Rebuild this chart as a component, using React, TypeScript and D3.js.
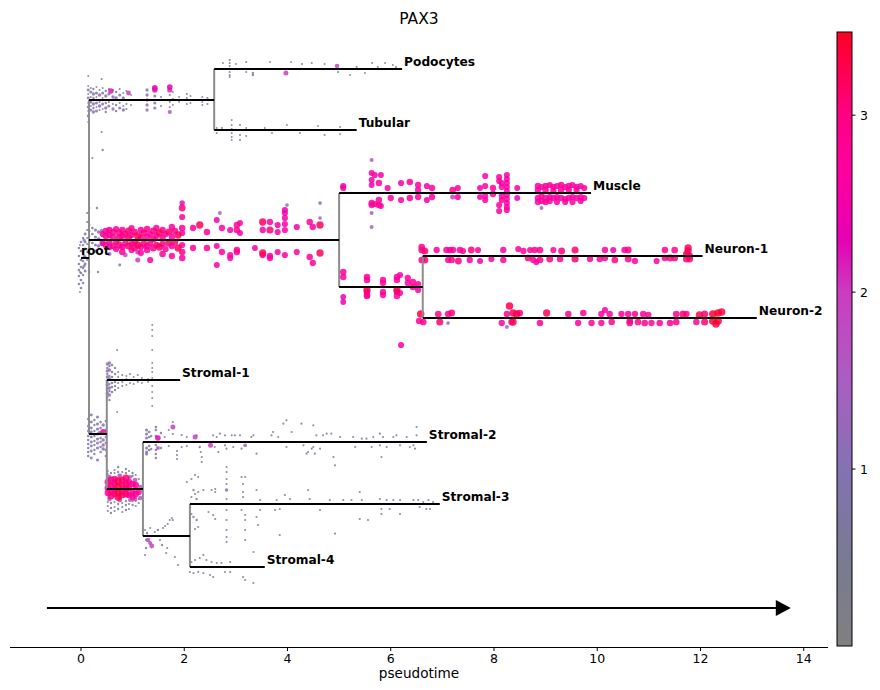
import * as d3 from 'd3';

// dendrogram layout: pseudotime span and vertical slot of each branch
const branchNames = ['root', 'stemTop', 'Podocytes', 'Tubular', 'stemMid', 'Muscle', 'stemNeuron', 'Neuron-1', 'Neuron-2', 'stemStromal', 'Stromal-1', 'stemStromalB', 'Stromal-2', 'stemStromalC', 'Stromal-3', 'Stromal-4'];
const branchT0 = [0, 0.155, 2.58, 2.58, 0.155, 5.0, 5.0, 6.62, 6.62, 0.155, 0.5, 0.5, 1.2, 1.2, 2.11, 2.11];
const branchT1 = [0.155, 2.58, 6.22, 5.34, 5.0, 9.88, 6.62, 12.04, 13.09, 0.5, 1.92, 1.2, 6.7, 2.11, 6.95, 3.56];
const branchY = [38.9, 54.7, 57.8, 51.7, 40.7, 45.4, 36.0, 39.1, 32.9, 21.3, 26.7, 15.8, 20.5, 11.1, 14.3, 8.0];
const branchParent = [-1, 0, 1, 1, 0, 4, 4, 6, 6, 0, 9, 9, 11, 11, 13, 13];
const labelled = ['root', 'Podocytes', 'Tubular', 'Muscle', 'Neuron-1', 'Neuron-2', 'Stromal-1', 'Stromal-2', 'Stromal-3', 'Stromal-4'];

const xTicks = [0, 2, 4, 6, 8, 10, 12, 14];
const cbarTicks = [1, 2, 3];
const cmapValues = [0, 0.5, 1.0, 1.5, 2.0, 2.3, 2.7, 3.0, 3.47];
const cmapColors = ['#808080', '#787b92', '#8472b2', '#aa5ec2', '#cc3cc0', '#e600b4', '#ff00a0', '#ff0084', '#ff0025'];

// cells: [pseudotime, PAX3 expression, offsets from branch line]
type Col = [number, number, number[]];

const rootCells: Col[] = [
  [-0.04, 0.7, [1.0, 0.2, -0.6, -1.2, -1.8, -2.6]],
  [0.0, 0.8, [1.6, 0.7, -0.2, -0.9, -1.5, -2.2, -3.0]],
  [0.04, 0.6, [2.0, 1.3, 0.5, -0.3, -1.0, -1.7, -2.5]],
  [0.08, 0.9, [2.4, 1.6, 0.9, 0.1, -0.6, -1.3]],
  [0.12, 0.5, [2.8, 2.0, 1.4, 0.6, -0.2, 3.6, 4.5]],
  [-0.02, 0.4, [-3.4, 1.3, -1.4]],
  [0.06, 1.0, [0.2, -0.8, 1.8]],
];
const stemTopCells: Col[] = [
  [0.14, 0.4, [2.4, 1.4, 0.6, -0.3, -1.1, -2.2]], [0.14, 0.9, [1.0, 0.2, -0.7, -1.6]],
  [0.19, 0.5, [1.2, 0.3, -0.6]], [0.19, 1.0, [0.8, -0.2, -1.0]],
  [0.24, 0.6, [1.1, 0.2, -0.8]], [0.24, 1.1, [0.6, -0.4, -1.2]],
  [0.30, 0.4, [1.3, 0.3, -0.7]], [0.30, 1.0, [0.7, -0.3, -1.1]],
  [0.36, 0.5, [1.0, -0.2, -1.0]], [0.36, 1.2, [0.5, -0.6]],
  [0.42, 0.4, [1.2, 0.2, -0.9]], [0.42, 1.0, [0.7, -0.4]],
  [0.48, 0.6, [0.9, -0.3, -1.2]], [0.48, 1.1, [0.4, -0.8]],
  [0.54, 0.5, [1.1, -0.2]], [0.54, 1.0, [0.6, -0.6]],
  [0.58, 2.2, [0.9]],
  [0.62, 0.4, [1.0, -0.4]], [0.62, 1.1, [0.3, -0.9]],
  [0.68, 0.6, [0.8, -0.5, -1.1]], [0.68, 1.2, [0.2]],
  [0.75, 0.5, [1.1, -0.3]], [0.75, 1.0, [0.5, -0.8]],
  [0.82, 0.4, [0.7, -0.6]], [0.82, 1.1, [0.2, -1.0]],
  [0.88, 0.5, [0.9, -0.4, -0.9]], [0.92, 1.9, [0.7]], [0.97, 0.4, [0.5, -0.5]],
  [1.28, 1.1, [1.0, 0.5, 0.0, -0.5, -1.0]],
  [1.43, 2.4, [1.2]], [1.43, 2.2, [1.0]], [1.43, 1.0, [0.4, -0.3, -0.8]],
  [1.55, 0.5, [0.3, -0.6]],
  [1.72, 2.3, [1.3]], [1.72, 2.1, [1.0]], [1.72, 0.5, [0.5, -0.2, -0.7]], [1.72, 1.6, [-1.2]],
  [1.78, 0.4, [0.8, 0.1, -0.5]], [1.90, 0.4, [0.3, -0.2]],
  [2.05, 0.5, [0.6, 0.2, -0.4]], [2.12, 0.4, [0.4, -0.3]],
  [2.35, 0.4, [0.3, -0.2, -0.5]], [2.45, 0.5, [0.2, -0.4]],
  [0.40, 0.5, [-3.2, 2.1]], [0.42, 0.6, [-5.0]], [0.22, 0.5, [-5.8]],
];
const podocyteCells: Col[] = [
  [2.75, 0.4, [0.6]], [2.88, 0.5, [0.9, 0.6, 0.3, 0.0, -0.3, -0.6, -0.8]], [3.0, 0.4, [0.5]],
  [3.2, 0.5, [0.7, -0.3]], [3.33, 0.6, [-0.6, -0.4]], [3.66, 0.4, [0.7]], [3.97, 2.0, [-0.4]],
  [4.07, 0.4, [0.7]], [4.28, 0.5, [0.5]], [4.47, 0.4, [0.6]], [4.72, 0.4, [0.5]],
  [4.96, 1.8, [0.3]], [4.98, 0.5, [-0.3]], [5.21, 0.4, [-0.6]], [5.34, 0.5, [0.2]],
  [5.5, 0.4, [-0.4]], [5.64, 0.4, [0.6]], [5.75, 0.5, [0.2]], [5.89, 0.4, [0.6]],
  [6.04, 0.4, [0.4]], [6.1, 0.5, [0.2]],
];
const tubularCells: Col[] = [
  [2.63, 0.4, [0.2, -0.3]], [2.73, 0.5, [0.2]], [2.92, 0.4, [1.0, 0.5, 0.1, -0.3, -0.7, -1.0]],
  [3.08, 0.5, [0.5, -0.5, -1.0]], [3.2, 0.4, [0.2, -0.6]], [3.37, 0.5, [0.0]], [3.56, 0.4, [0.2]],
  [3.7, 0.4, [-0.3]], [3.85, 0.5, [0.0]], [3.99, 0.4, [0.5]], [4.24, 0.4, [-0.3]],
  [4.59, 0.4, [0.4]], [4.72, 0.5, [-0.5]], [4.92, 0.4, [0.0]], [5.02, 0.4, [0.3, -0.4]],
];
const stemMidCells: Col[] = [
  [0.16, 0.6, [1.5, 0.9, 0.4, -0.2, -0.7, -1.3, 3.2, -3.2]],
  [0.22, 0.8, [1.2, 0.6, -0.3, -0.9]], [0.28, 1.0, [1.0, 0.3, -0.5, -1.1]],
  [0.34, 1.2, [0.8, 0.1, -0.6]], [0.40, 1.4, [0.9, -0.4]],
  [0.42, 2.6, [0.6, -0.3]], [0.48, 2.8, [0.9, 0.4, -0.5]], [0.55, 2.7, [1.0, 0.5, -0.2, -0.7]],
  [0.62, 2.9, [0.8, 0.3, -0.6]], [0.68, 2.6, [1.1, -0.2, -0.9]], [0.74, 3.0, [0.7, 0.2, -0.5]],
  [0.80, 2.8, [1.0, 0.4, -0.7, -1.2]], [0.86, 2.7, [0.6, -0.3]], [0.92, 3.1, [0.9, 0.2, -0.6]],
  [0.98, 2.6, [1.2, 0.5, -0.4, -1.0]], [1.04, 2.9, [0.8, -0.2, -0.8]], [1.10, 3.2, [0.4, -0.5]],
  [1.16, 2.7, [1.0, 0.2, -0.7, -1.3]], [1.22, 3.0, [0.7, -0.4]], [1.28, 2.8, [1.1, 0.3, -0.6, -1.0]],
  [1.34, 2.6, [0.6, -0.3, -2.0]], [1.40, 3.0, [0.9, 0.1, -0.8]], [1.46, 2.7, [1.2, 0.4, -0.5]],
  [1.52, 3.2, [0.7, -0.7]], [1.58, 2.8, [1.0, 0.2, -0.4, -1.4]], [1.64, 2.6, [0.6, -0.9]],
  [1.70, 3.1, [0.8, -0.3]], [1.76, 2.7, [1.3, 0.3, -0.6, -1.6]], [1.82, 2.9, [0.9, -0.2]],
  [1.88, 3.2, [0.5, -0.8]],
  [0.55, 1.6, [-1.4]], [0.86, 1.8, [-1.5]], [1.1, 2.0, [-2.0, -1.2]], [0.75, 0.9, [-2.5]],
  [0.31, 0.6, [3.2]], [0.33, 0.6, [-3.2]],
  [1.96, 2.2, [3.7]], [1.96, 3.0, [3.2]], [1.96, 2.8, [1.2, -1.2, -1.8]], [1.96, 2.6, [2.3, 0.7, -0.5]],
  [2.17, 2.7, [1.2, -0.8]], [2.30, 3.2, [1.5]], [2.44, 2.8, [0.8, -0.8]],
  [2.63, 2.5, [2.0, -0.6, -2.5]], [2.69, 1.4, [2.7]], [2.73, 2.7, [1.2, -1.2]],
  [2.89, 2.6, [1.0, -1.5, -1.8]], [3.02, 2.8, [1.5, 1.0, -1.0, -1.2]], [3.08, 2.5, [1.7, 0.7]],
  [3.37, 2.4, [-0.8]], [3.52, 3.2, [1.8, -1.3]], [3.52, 2.7, [1.0, -1.5]],
  [3.66, 3.1, [1.0]], [3.66, 2.7, [1.8, -1.6, -1.8]], [3.81, 2.6, [1.5, 0.8, -1.2]],
  [3.95, 2.6, [3.0, 2.7, 2.2, 1.6, 1.0, -1.5]], [3.99, 1.3, [3.5]],
  [4.18, 2.6, [1.3, -1.2]], [4.43, 2.8, [1.8, -1.7]], [4.49, 2.7, [1.3, -2.3]],
  [4.63, 1.3, [3.7, 2.2]], [4.63, 3.2, [1.5, -1.3]],
];
const muscleCells: Col[] = [
  [5.08, 2.6, [0.7, 0.5]], [5.63, 2.5, [2.0, 1.3, 0.8]], [5.63, 2.7, [-1.0, -1.2]],
  [5.63, 1.5, [-2.0, -3.4, 3.3]], [5.69, 2.6, [1.8, -1.1]], [5.77, 2.8, [1.0, -0.7, -1.2]],
  [5.81, 2.5, [1.8, -1.3]], [5.94, 2.6, [0.5]], [6.0, 2.7, [-0.5]], [6.2, 2.6, [1.0, -0.7]],
  [6.37, 2.8, [1.1, -0.5]], [6.53, 2.7, [0.8, 0.3, -0.4]], [6.70, 2.6, [0.7, -0.7]],
  [6.80, 2.7, [0.5, -0.4]], [7.20, 2.0, [-0.4]], [7.20, 2.9, [0.3]], [7.30, 2.6, [0.5, -0.4]],
  [7.73, 2.5, [0.5, -0.4]], [7.83, 2.6, [1.7, 0.7, -0.3, -0.7]], [7.98, 2.7, [0.5, -0.1]],
  [8.1, 2.6, [1.6, 1.2, -1.2, -1.8]], [8.15, 2.6, [1.0, 0.6, -0.3, -0.7]],
  [8.25, 2.6, [1.8, 1.4, 1.0, 0.6, 0.2, -0.2, -0.6, -1.0, -1.4, -1.7]],
  [8.45, 2.5, [0.5, -0.5]], [8.85, 2.7, [0.7, 0.3, -0.5, -0.9]], [8.92, 2.6, [0.6, -0.3, -0.8]],
  [8.92, 1.4, [-1.5]], [9.0, 2.8, [0.7, 0.3, -0.5, -0.9]], [9.08, 2.6, [0.8, -0.4, -0.8]],
  [9.15, 2.7, [0.6, 0.2, -0.5]], [9.22, 2.6, [0.7, -0.4, -0.9]], [9.3, 2.8, [0.8, 0.3, -0.5]],
  [9.38, 2.6, [0.6, -0.6, -0.9]], [9.45, 2.7, [0.7, 0.3, -0.5]], [9.52, 2.6, [0.8, -0.4, -0.9]],
  [9.6, 2.7, [0.6, 0.3, -0.5]], [9.68, 2.6, [0.7, -0.4, -0.8]], [9.75, 2.6, [0.5, -0.5]],
];
const stemNeuronCells: Col[] = [
  [5.08, 2.8, [1.5, 1.0]], [5.08, 2.4, [-1.0, -1.5]], [5.54, 2.8, [1.0, 0.7, -0.5, -0.8, -0.9]],
  [5.54, 3.2, [-0.3]], [5.85, 2.7, [0.7, 0.4, -0.5, -0.8]], [6.12, 2.8, [1.0, 0.7, -0.5, -0.9]],
  [6.12, 3.2, [-0.3]], [6.18, 2.6, [1.2, -0.6]], [6.20, 2.6, [-5.8]], [6.33, 2.7, [0.9, 0.4]],
  [6.43, 2.8, [0.5, 0.0]], [6.53, 2.6, [0.3, -0.3]],
];
const neuron1Cells: Col[] = [
  [6.60, 2.9, [0.9, 0.6, -0.4]], [6.66, 3.1, [0.5, -0.4]], [6.89, 2.7, [0.6]], [7.08, 2.8, [0.6]],
  [7.11, 2.6, [-0.4]], [7.15, 2.9, [0.6]], [7.18, 2.8, [-0.4]], [7.21, 2.7, [0.6]],
  [7.31, 3.0, [-0.5]], [7.34, 2.8, [0.6]], [7.40, 2.6, [0.5]], [7.53, 2.7, [-0.4]],
  [7.56, 3.0, [0.6]], [7.69, 2.6, [0.6]], [7.73, 2.5, [-0.5]], [7.95, 2.6, [-0.3]],
  [8.18, 2.7, [0.6, -0.4]], [8.47, 2.6, [0.7]], [8.57, 2.7, [0.5]], [8.66, 2.9, [-0.2]],
  [8.70, 2.6, [0.6]], [8.76, 2.7, [-0.4]], [8.79, 2.8, [0.6]], [8.82, 2.6, [-0.6]],
  [8.89, 2.9, [0.6, -0.4]], [9.08, 3.0, [-0.3]], [9.15, 2.6, [0.6]], [9.28, 2.8, [-0.3]],
  [9.31, 3.0, [0.5]], [9.57, 3.1, [0.6, -0.3]], [9.86, 2.7, [-0.3]], [10.05, 2.8, [-0.3]],
  [10.15, 2.7, [0.6, -0.2]], [10.31, 2.6, [0.6]], [10.34, 2.9, [-0.4]], [10.53, 2.8, [0.6]],
  [10.60, 3.0, [0.6, -0.3]], [10.73, 2.7, [-0.5]], [11.15, 2.6, [-0.5]], [11.31, 2.8, [0.6, -0.2]],
  [11.41, 3.0, [-0.2]], [11.50, 2.9, [0.6, -0.2]], [11.73, 3.1, [0.2, -0.3]],
  [11.76, 3.2, [0.8, 0.5]], [11.79, 3.0, [0.0, -0.3]],
];
const neuron2Cells: Col[] = [
  [6.58, 3.3, [0.4]], [6.55, 2.8, [-0.3]], [6.63, 2.9, [-0.4]], [6.92, 2.9, [0.4]],
  [6.95, 3.1, [-0.4]], [7.11, 2.8, [0.4]], [7.11, 1.3, [-0.5]], [7.18, 3.0, [0.5]],
  [8.15, 2.7, [-0.5]], [8.30, 3.3, [1.2]], [8.25, 2.8, [0.4]], [8.25, 1.4, [-0.9]],
  [8.34, 2.9, [-0.4]], [8.37, 3.2, [0.5, -0.4]], [8.44, 3.3, [0.4]], [8.50, 2.9, [0.5]],
  [8.89, 2.8, [-0.5]], [9.02, 3.2, [0.5]], [9.44, 2.8, [0.4]], [9.63, 2.7, [-0.5]],
  [9.73, 2.8, [0.5]], [9.89, 2.7, [-0.5]], [10.08, 2.7, [0.4, -0.5]], [10.15, 2.6, [0.8]],
  [10.24, 2.8, [0.4]], [10.28, 2.8, [-0.4]], [10.47, 2.7, [0.4]], [10.60, 2.8, [0.4]],
  [10.63, 2.9, [-0.3, -0.5]], [10.73, 2.7, [0.4]], [10.79, 2.9, [-0.4]], [10.89, 2.8, [0.4]],
  [10.92, 2.9, [-0.5]], [10.99, 2.7, [0.3]], [11.05, 2.7, [-0.5]], [11.21, 2.8, [-0.5]],
  [11.41, 2.8, [-0.5]], [11.53, 2.9, [0.4, -0.4]], [11.66, 3.1, [0.4]], [11.73, 2.7, [0.4]],
  [11.92, 2.8, [-0.4]], [11.98, 3.2, [0.3]], [12.08, 3.1, [0.4, -0.4]], [12.24, 3.4, [0.4, -0.3]],
  [12.30, 3.3, [-0.6]], [12.34, 3.4, [0.5, -0.3]], [12.41, 3.3, [0.6]],
];
const stemStromalCells: Col[] = [
  [0.14, 0.7, [1.5, 0.8, 0.3, -0.2, -0.6, -1.0, -1.4, -1.8, -2.2]],
  [0.20, 0.9, [1.9, 1.2, 0.6, 0.2, -0.3, -0.8, -1.2, -1.7, -2.4]],
  [0.26, 0.6, [1.4, 0.9, 0.3, -0.2, -0.7, -1.1, -1.6, -2.0]],
  [0.32, 1.0, [1.7, 1.0, 0.5, 0.0, -0.5, -0.9, -1.4, -2.6]],
  [0.38, 0.7, [1.2, 0.6, 0.1, -0.4, -0.8, -1.3, -1.8]],
  [0.43, 2.4, [0.2]], [0.43, 1.2, [0.9, -0.6, -1.1, -1.5]],
  [0.48, 0.6, [1.3, 0.4, -0.3, -0.9, -1.6, -2.2]], [0.36, 1.6, [0.1]],
];
const stromal1Cells: Col[] = [
  [0.51, 1.1, [1.6, 0.9, 0.3, -0.5, -1.3]], [0.51, 0.7, [1.2, 0.6, -0.2, -0.9, -1.7]],
  [0.55, 1.2, [1.7, 1.0, 0.1, -0.8, -1.5]], [0.55, 0.6, [1.4, 0.4, -0.4, -1.1, -2.0]],
  [0.60, 0.8, [1.5, 0.8, 0.3, -0.3, -0.7, -1.2]], [0.66, 0.6, [1.2, 0.6, -0.2, -0.6, -1.0]],
  [0.72, 0.5, [0.8, 0.3, -0.3, -0.8]], [0.80, 0.5, [0.5, -0.2, -0.6]],
  [0.88, 0.4, [0.4, 0.1, -0.5]], [0.95, 0.5, [0.6, -0.3]], [1.02, 0.4, [0.3, -0.4]],
  [1.10, 0.5, [0.5, -0.2]], [1.18, 0.4, [0.2, -0.3]], [1.30, 0.4, [0.1, -0.2]],
  [1.38, 0.4, [1.7, 1.2, 0.8, 0.2, -0.6, -1.2, -1.8, -2.6, 3.0, 4.4, 5.0, 5.5]],
  [0.70, 0.4, [3.0, -3.2]],
];
const stemStromalBCells: Col[] = [
  [0.52, 2.8, [0.7, 0.1, -0.4]], [0.58, 3.0, [0.9, 0.3, -0.3, -0.7]],
  [0.65, 2.7, [1.0, 0.5, -0.1, -0.5]], [0.72, 3.3, [0.8, 0.2, -0.4, -0.8]],
  [0.80, 2.9, [0.9, 0.4, -0.2, -0.6]], [0.87, 3.1, [1.1, 0.5, 0.0, -0.5]],
  [0.93, 2.8, [0.7, 0.1, -0.6]], [1.00, 2.7, [0.5, -0.3, -0.8]], [1.06, 2.9, [0.4, -0.5]],
  [1.12, 2.6, [-0.3]],
  [0.55, 1.7, [1.2, -1.0]], [0.75, 1.9, [1.3, -1.1]], [0.95, 1.6, [1.2, -1.1]],
  [1.05, 1.8, [0.9, -1.0]], [1.15, 1.7, [0.2, -0.9]],
  [0.52, 0.5, [1.8, 1.5, -1.3, -1.7, -2.2]], [0.58, 0.6, [1.6, -1.4, -1.9, -2.4]],
  [0.65, 0.5, [1.9, 1.6, -1.3, -1.8, -2.2]], [0.72, 0.6, [2.2, 1.7, -1.5, -2.0]],
  [0.80, 0.5, [1.7, -1.4, -1.8, -2.3]], [0.87, 0.6, [2.0, 1.6, -1.2, -1.6, -2.1]],
  [0.93, 0.5, [1.8, -1.5, -2.0]], [1.00, 0.6, [1.6, 1.3, -1.2, -1.6]],
  [1.06, 0.5, [1.4, -1.2, -1.7]], [1.12, 0.5, [1.0, -1.0, -1.4]],
];
const stromal2Cells: Col[] = [
  [1.27, 1.0, [1.2, 0.8, 0.4, -0.6, -1.0, -1.2]], [1.32, 0.8, [1.0, 0.5, -0.4, -0.8]],
  [1.36, 0.6, [0.6, -0.7]], [1.45, 0.7, [1.5, 1.2, 0.6, -0.3, -0.8, -1.2, -1.6]],
  [1.49, 2.3, [0.4]], [1.49, 1.5, [-0.6]], [1.55, 0.6, [0.9, -0.6]], [1.62, 0.5, [0.5]],
  [1.70, 0.5, [1.2, -0.4]], [1.78, 2.0, [1.5]], [1.78, 0.5, [2.0, 0.8]],
  [1.86, 0.5, [-0.9, -1.3, -1.7]], [1.95, 0.5, [0.7, -0.5]], [2.05, 0.5, [0.5, -0.4]],
  [2.21, 2.0, [0.5]], [2.24, 0.6, [0.67]], [2.30, 0.6, [-0.5]], [2.32, 0.5, [-1.0]],
  [2.34, 0.5, [-1.5, -2.0]], [2.51, 2.0, [-0.33]], [2.56, 0.5, [0.67]], [2.59, 0.5, [-0.5]],
  [2.63, 0.5, [0.5]], [2.66, 0.5, [-1.0]], [2.69, 0.5, [0.83]], [2.79, 0.5, [0.67, -0.33]],
  [2.82, 0.5, [-0.67]], [2.92, 0.5, [0.67]], [2.95, 0.5, [-0.5]], [2.98, 0.5, [0.67]],
  [3.08, 0.5, [0.67]], [3.11, 0.5, [-0.67]], [3.18, 1.3, [-0.33]], [3.30, 0.5, [0.5]],
  [3.34, 0.5, [0.67]], [3.40, 0.5, [-1.17]], [3.69, 0.5, [0.67]], [3.72, 0.5, [1.0]],
  [3.82, 0.5, [0.5]], [3.92, 0.5, [1.83]], [3.98, 0.5, [2.17, -0.5]], [4.08, 0.5, [1.0]],
  [4.27, 0.5, [1.83]], [4.31, 0.5, [-0.33]], [4.37, 0.5, [-1.17]], [4.40, 0.5, [-1.0]],
  [4.47, 0.5, [-0.67]], [4.50, 0.5, [1.67, -0.5]], [4.53, 0.5, [-1.17]], [4.56, 0.5, [0.67]],
  [4.63, 0.5, [-0.67]], [4.69, 0.5, [0.67]], [4.76, 0.5, [0.83]], [4.85, 0.5, [0.83]],
  [4.89, 0.5, [-1.5]], [4.92, 0.5, [-2.33]], [5.02, 0.5, [0.5]], [5.27, 0.5, [0.5]],
  [5.31, 0.5, [-0.5]], [5.44, 0.5, [0.33]], [5.53, 0.5, [0.33]], [5.63, 0.5, [-0.5]],
  [5.66, 0.5, [0.5]], [5.79, 0.5, [0.83, -0.33]], [5.82, 0.5, [-1.5]], [5.85, 0.5, [0.5]],
  [5.92, 0.5, [-0.5]], [6.05, 0.5, [0.5]], [6.11, 0.5, [0.67]], [6.18, 0.5, [-0.33]],
  [6.31, 0.5, [0.5]], [6.37, 0.5, [-0.5]], [6.44, 0.5, [-0.33]], [6.50, 0.5, [1.5, 0.67]],
  [6.47, 0.5, [-0.67]],
];
const stemStromalCCells: Col[] = [
  [1.24, 0.5, [0.6, -1.9]], [1.28, 0.6, [0.3]], [1.34, 0.5, [0.8]], [1.26, 0.6, [-0.4, -1.2]],
  [1.30, 1.8, [-0.4]], [1.34, 1.6, [-0.7]], [1.37, 1.9, [-1.0]], [1.43, 0.5, [0.4]],
  [1.49, 0.6, [0.6]], [1.53, 0.5, [-0.4]], [1.57, 0.6, [-0.9]], [1.59, 0.5, [0.8]],
  [1.63, 0.5, [1.0]], [1.68, 0.5, [1.2]], [1.72, 0.5, [1.6]], [1.76, 0.5, [1.8]],
  [1.67, 0.5, [-1.2]], [1.65, 0.5, [-1.7]], [1.82, 0.5, [-2.1]], [1.88, 0.5, [-2.9]],
  [1.78, 0.5, [1.6]],
];
const stromal3Cells: Col[] = [
  [2.05, 0.5, [2.2]], [2.14, 0.5, [2.5, 0.7, -1.0]], [2.21, 0.5, [2.9, 1.0, -2.5]],
  [2.27, 0.5, [2.7, 1.2, -2.3]], [2.18, 0.6, [1.4, -1.3]], [2.24, 0.6, [0.5, -1.6]],
  [2.37, 0.5, [1.4]], [2.47, 0.5, [-0.8]], [2.53, 0.5, [1.4]], [2.56, 0.5, [-1.1]],
  [2.60, 0.5, [1.5, 1.2, -1.5]], [2.82, 0.5, [3.7, 3.2, 2.5, 2.0, 0.5, -0.6, -1.6, -2.6, -3.3, -3.8]],
  [2.82, 1.2, [1.4]], [3.11, 0.5, [2.7, -0.6]], [3.18, 0.5, [2.7, -1.1, -1.6, -2.6, -3.6]],
  [3.14, 0.5, [2.0, 1.2, 0.7]], [3.40, 0.5, [1.4, -1.3]], [3.47, 0.5, [0.4, -0.6]],
  [3.43, 0.5, [-2.1]], [3.76, 0.5, [-0.6]], [3.79, 0.5, [0.4]], [3.85, 0.5, [-0.5, -3.1]],
  [3.95, 0.5, [0.9]], [4.05, 0.5, [0.5]], [4.40, 0.5, [1.4]], [4.43, 0.5, [0.5]],
  [4.63, 0.5, [-0.6]], [4.82, 0.5, [0.4]], [4.92, 0.5, [-2.96]], [5.08, 0.5, [0.4]],
  [5.24, 0.5, [0.4]], [5.40, 0.5, [1.2, -1.5]], [5.44, 0.5, [0.4]], [5.56, 0.5, [-1.6]],
  [5.79, 0.5, [0.5]], [5.82, 0.5, [-0.5, -1.0]], [5.92, 0.5, [0.4]], [5.98, 0.5, [-0.5]],
  [6.05, 0.5, [0.4]], [6.18, 0.5, [0.4, -1.0]], [6.44, 0.5, [0.4]], [6.53, 0.5, [0.4]],
  [6.56, 0.5, [-0.3]], [6.63, 0.5, [0.2]], [6.69, 0.5, [-0.5]], [6.73, 0.5, [0.4]],
  [6.76, 0.5, [-0.5]], [6.82, 0.5, [0.2]],
];
const stromal4Cells: Col[] = [
  [2.14, 0.5, [0.5]], [2.21, 0.5, [0.7]], [2.30, 0.5, [0.9]], [2.37, 0.5, [1.2, -0.6]],
  [2.43, 0.5, [0.7]], [2.53, 0.5, [0.5]], [2.63, 0.5, [0.4]], [2.72, 0.5, [0.4]],
  [2.89, 0.5, [0.5, -0.5]], [2.11, 0.5, [-0.5]], [2.18, 0.5, [-0.6]], [2.27, 0.5, [-0.5]],
  [2.50, 0.5, [-0.8]], [2.56, 0.5, [-1.0]], [2.79, 0.5, [-0.5]], [3.14, 0.5, [-1.0]],
  [3.18, 0.5, [-1.3]], [3.34, 0.5, [-1.6, 1.5]],
];

const cellsByBranch: Col[][] = [
  rootCells, stemTopCells, podocyteCells, tubularCells, stemMidCells, muscleCells,
  stemNeuronCells, neuron1Cells, neuron2Cells, stemStromalCells, stromal1Cells,
  stemStromalBCells, stromal2Cells, stemStromalCCells, stromal3Cells, stromal4Cells,
];

const arrowT = [-0.66, 13.75];
const arrowY = 3.9;

export default function App() {
  const width = 880;
  const height = 690;
  const font = 'DejaVu Sans, sans-serif';

  const x = d3.scaleLinear().domain([-1.375, 14.47]).range([10, 828]);
  const y = d3.scaleLinear().domain([0, 61.5]).range([647, 32]);
  const vmax = cmapValues[cmapValues.length - 1];
  const color = d3.scaleLinear<string>().domain(cmapValues).range(cmapColors).clamp(true);
  const radius = d3.scaleLinear().domain([0, vmax]).range([0.6, 3.9]);

  const cells: { cx: number; cy: number; e: number }[] = [];
  cellsByBranch.forEach((cols, b) => {
    cols.forEach(([t, e, dys]) => {
      dys.forEach(dy => cells.push({ cx: x(t), cy: y(branchY[b] + dy), e }));
    });
  });
  cells.sort((a, b) => a.e - b.e);

  const cbar = d3.scaleLinear().domain([0, vmax]).range([646, 32]);
  const cbX = 837;
  const cbW = 15;

  const ax0 = x(arrowT[0]);
  const ax1 = x(arrowT[1]);
  const ay = y(arrowY);

  return (
    <svg width={width} height={height} style={{ position: 'absolute', left: 0, top: 0, background: '#fff' }} fontFamily={font}>
      <defs>
        <linearGradient id="cmap" x1="0" y1="1" x2="0" y2="0">
          {cmapValues.map((v, i) => (
            <stop key={i} offset={v / vmax} stopColor={cmapColors[i]} />
          ))}
        </linearGradient>
      </defs>
      <rect width={width} height={height} fill="#fff" />

      <text x={419} y={24} textAnchor="middle" fontSize={15.5}>PAX3</text>

      {/* cells */}
      {cells.map((c, i) => (
        <circle key={i} cx={c.cx} cy={c.cy} r={radius(c.e)} fill={color(c.e)} fillOpacity={0.85} />
      ))}

      {/* vertical connectors */}
      {branchParent.map((p, b) => p < 0 ? null : (
        <line key={'v' + b} x1={x(branchT0[b])} x2={x(branchT0[b])} y1={y(branchY[p])} y2={y(branchY[b])}
          stroke="#8c8c8c" strokeWidth={2} />
      ))}
      {/* branch segments */}
      {branchNames.map((n, b) => (
        <line key={'h' + b} x1={x(branchT0[b])} x2={x(branchT1[b])} y1={y(branchY[b])} y2={y(branchY[b])}
          stroke="#000" strokeWidth={2} />
      ))}
      {branchNames.map((n, b) => labelled.includes(n) ? (
        <text key={'l' + b} x={n === 'root' ? x(branchT0[b]) : x(branchT1[b]) + 2} y={y(branchY[b]) - 3}
          fontSize={12.2} fontWeight="bold">{n}</text>
      ) : null)}

      {/* pseudotime arrow */}
      <line x1={ax0} x2={ax1 - 12} y1={ay} y2={ay} stroke="#000" strokeWidth={2} />
      <polygon points={`${ax1},${ay} ${ax1 - 15},${ay - 8} ${ax1 - 15},${ay + 8}`} fill="#000" />

      {/* x axis */}
      <line x1={10} x2={828} y1={647.5} y2={647.5} stroke="#000" strokeWidth={1} />
      {xTicks.map(t => (
        <g key={t}>
          <line x1={x(t)} x2={x(t)} y1={647.5} y2={651} stroke="#000" />
          <text x={x(t)} y={663} textAnchor="middle" fontSize={12.5}>{t}</text>
        </g>
      ))}
      <text x={419} y={677.5} textAnchor="middle" fontSize={13.6}>pseudotime</text>

      {/* colorbar */}
      <rect x={cbX} y={32} width={cbW} height={614} fill="url(#cmap)" stroke="#000" strokeWidth={1} />
      {cbarTicks.map(v => (
        <g key={v}>
          <line x1={cbX + cbW} x2={cbX + cbW + 3.5} y1={cbar(v)} y2={cbar(v)} stroke="#000" />
          <text x={cbX + cbW + 8} y={cbar(v) + 4.5} fontSize={12.5}>{v}</text>
        </g>
      ))}
    </svg>
  );
}
